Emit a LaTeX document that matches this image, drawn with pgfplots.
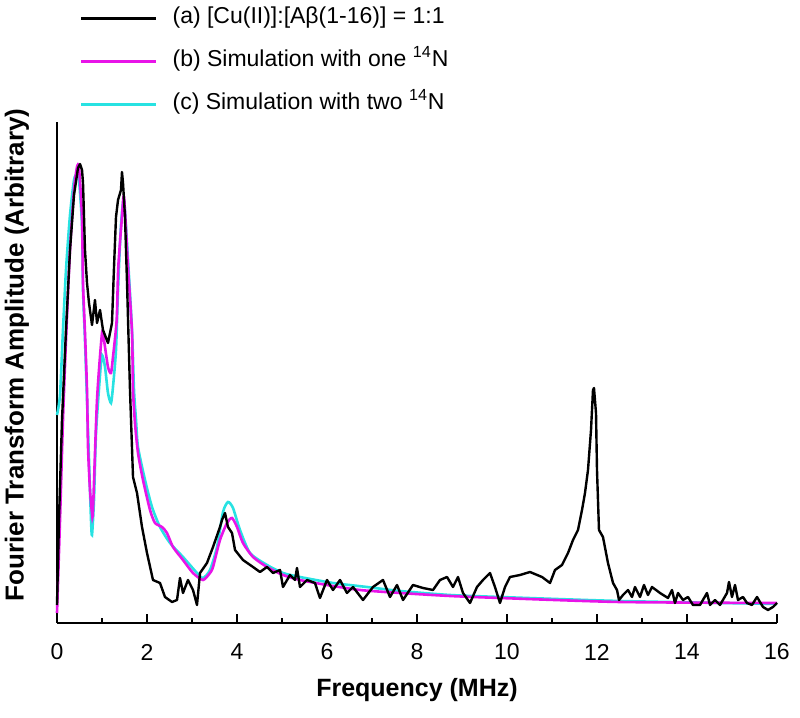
\documentclass[border=0pt]{standalone}
\usepackage{fontspec}
\setmainfont{Liberation Sans}
\usepackage{pgfplots}
\pgfplotsset{compat=1.18}
\definecolor{magc}{RGB}{232,20,232}
\definecolor{cyc}{RGB}{40,226,226}
\begin{document}
\begin{tikzpicture}
\path[use as bounding box] (-28.5pt,-47.5pt) rectangle (371.5pt,311.5pt);
\begin{axis}[
  scale only axis, width=360pt, height=250.5pt,
  at={(0,0)}, anchor=south west,
  xmin=0, xmax=16, ymin=0, ymax=501,
  axis x line=bottom, axis y line=left,
  axis line style={-, line width=1.2pt},
  xtick={0,2,...,16}, minor xtick={1,3,...,15}, ytick=\empty,
  xtick align=inside,
  major tick length=4.5pt, minor tick length=2.5pt,
  tick style={line width=1pt, black},
  /pgf/number format/assume math mode=true,
  xticklabel style={font=\fontsize{11.5}{13}\selectfont, anchor=center, yshift=-14.5pt},
  every axis x label/.style={at={(axis description cs:0.5,0)}, yshift=-33.5pt, anchor=center, font=\fontsize{12.5}{14}\selectfont\bfseries},
  every axis y label/.style={at={(axis description cs:0,0.535)}, xshift=-20pt, rotate=90, anchor=center, font=\fontsize{13}{15}\selectfont\bfseries},
  xlabel={Frequency (MHz)},
  ylabel={Fourier Transform Amplitude (Arbitrary)},
  legend cell align=left,
  legend style={draw=none, fill=none, at={(axis description cs:0,1)}, anchor=south west,
    xshift=8.5pt, yshift=1pt, font=\fontsize{11.5}{13}\selectfont,
    column sep=7.5pt, row sep=10.5pt,
    nodes={inner sep=0pt, text height=8pt, text depth=3pt}},
  legend image code/.code={\draw[#1] (0pt,0pt) -- (37.5pt,0pt);},
  clip=false
]
\addlegendimage{black, line width=1.1pt}
\addlegendentry{(a) [Cu(II)]:[Aβ(1-16)] = 1:1}
\addlegendimage{magc, line width=1.1pt}
\addlegendentry{(b) Simulation with one \textsuperscript{14}N}
\addlegendimage{cyc, line width=1.1pt}
\addlegendentry{(c) Simulation with two \textsuperscript{14}N}

% (c) cyan
\addplot[cyc, line width=1.3pt, smooth, tension=0.4, forget plot] coordinates {
(0,208) (0.067,228) (0.133,293) (0.2,353) (0.289,408) (0.378,443) (0.444,449) (0.489,443)
(0.556,398) (0.578,333) (0.622,283) (0.667,223) (0.711,163) (0.756,103) (0.778,88) (0.822,123)
(0.867,190) (0.956,248) (1.0,268) (1.067,256) (1.133,230) (1.2,220) (1.244,236) (1.311,273)
(1.356,333) (1.422,398) (1.489,423) (1.578,363) (1.667,293) (1.711,233) (1.756,203) (1.8,176)
(1.956,143) (2.111,116) (2.289,96) (2.511,80) (2.8,66) (3.111,50) (3.244,45) (3.4,53)
(3.556,76) (3.689,111) (3.8,121) (3.911,115) (4.067,93) (4.289,70) (4.667,58) (5.022,50)
(5.4,46) (6.133,40) (6.889,36) (7.622,32) (8.733,28) (9.844,26) (12.511,22) (16,19)
};
% (b) magenta
\addplot[magc, line width=1.3pt, smooth, tension=0.4, forget plot] coordinates {
(0,10) (0.067,103) (0.133,203) (0.2,283) (0.289,373) (0.378,433) (0.444,456) (0.489,455)
(0.556,406) (0.578,340) (0.622,290) (0.667,233) (0.689,176) (0.733,133) (0.778,110) (0.8,113)
(0.889,223) (1.0,290) (1.044,283) (1.133,256) (1.2,250) (1.244,266) (1.326,303) (1.362,356)
(1.444,406) (1.489,426) (1.578,356) (1.667,290) (1.689,233) (1.733,200) (1.8,170) (1.911,143)
(2.067,113) (2.178,100) (2.333,96) (2.444,90) (2.578,76) (2.8,63) (3.022,50) (3.244,43)
(3.4,50) (3.467,56) (3.622,83) (3.778,100) (3.889,105) (4.0,96) (4.133,80) (4.356,66)
(4.667,56) (5.022,48) (5.4,43) (6.0,38) (6.733,33) (7.622,30) (8.733,27) (9.844,25)
(12.511,21) (16,20)
};
% (a) experimental, black
\addplot[black, line width=1.2pt, line join=round, forget plot] coordinates {
(0,18) (0.044,103) (0.111,203) (0.2,293) (0.289,373) (0.378,428) (0.467,455) (0.511,459)
(0.556,453) (0.578,440) (0.622,373) (0.667,340) (0.711,320) (0.778,298) (0.844,323) (0.889,300)
(0.956,313) (1.022,293) (1.133,280) (1.222,300) (1.267,356) (1.311,406) (1.356,423) (1.422,433)
(1.444,451) (1.467,440) (1.511,406) (1.556,340) (1.622,233) (1.689,146) (1.778,130) (1.889,96)
(2.0,70) (2.133,43) (2.289,40) (2.4,26) (2.556,21) (2.667,23) (2.733,45) (2.8,30)
(2.911,43) (3.022,33) (3.111,18) (3.178,50) (3.333,60) (3.467,76) (3.622,96) (3.667,103)
(3.733,110) (3.8,96) (3.889,90) (3.956,73) (4.133,63) (4.356,56) (4.511,51) (4.667,56)
(4.8,50) (4.956,53) (5.022,36) (5.178,48) (5.289,43) (5.333,55) (5.4,36) (5.556,43)
(5.733,40) (5.844,25) (6.0,43) (6.133,33) (6.289,43) (6.444,30) (6.578,36) (6.8,23)
(7.022,36) (7.244,43) (7.4,26) (7.556,38) (7.689,23) (7.911,38) (8.133,35) (8.356,33)
(8.511,43) (8.667,46) (8.8,36) (8.911,46) (9.022,30) (9.178,20) (9.333,36) (9.467,43)
(9.622,50) (9.733,36) (9.844,20) (9.956,36) (10.067,46) (10.289,48) (10.511,51) (10.778,46)
(10.956,40) (11.067,53) (11.222,58) (11.356,70) (11.467,83) (11.578,93) (11.667,113) (11.733,130)
(11.8,153) (11.867,193) (11.911,233) (11.933,235) (11.978,210) (12.0,153) (12.044,93) (12.133,86)
(12.244,60) (12.356,40) (12.444,33) (12.489,23) (12.578,28) (12.689,33) (12.778,26) (12.844,36)
(12.956,26) (13.044,38) (13.133,28) (13.222,36) (13.4,30) (13.578,25) (13.667,33) (13.733,20)
(13.8,30) (13.911,23) (14.022,26) (14.133,18) (14.289,18) (14.444,30) (14.511,18) (14.622,23)
(14.733,18) (14.889,30) (14.933,41) (15.0,26) (15.067,38) (15.133,23) (15.244,26) (15.333,20)
(15.444,18) (15.556,26) (15.622,21) (15.689,16) (15.8,13) (15.911,16) (16,20)
};
\end{axis}
\end{tikzpicture}
\end{document}
